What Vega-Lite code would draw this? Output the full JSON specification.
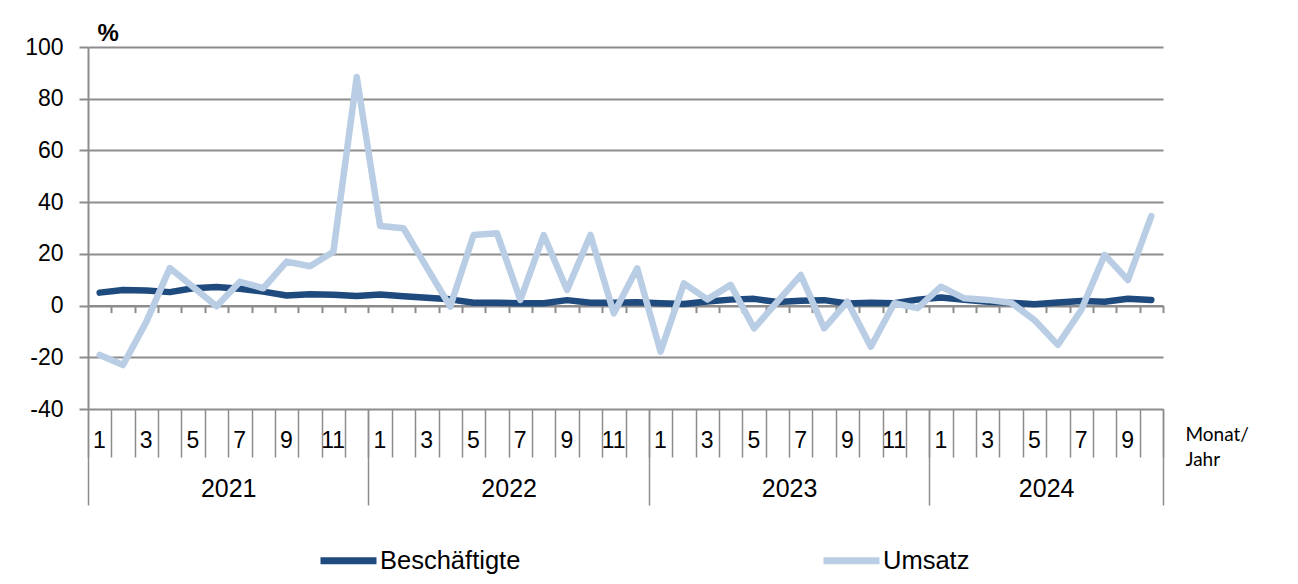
{
  "$schema": "https://vega.github.io/schema/vega-lite/v6.json",
  "width": 1075,
  "height": 362,
  "autosize": {"type": "none"},
  "padding": {"left": 88, "top": 47, "right": 135, "bottom": 175},
  "background": "white",
  "config": {
    "font": "Liberation Sans",
    "view": {"stroke": null},
    "axis": {"labelColor": "#000000", "titleColor": "#000000"}
  },
  "data": {
    "values": [
      {"i":0,"s":"Beschäftigte","v":5.0},{"i":1,"s":"Beschäftigte","v":6.0},{"i":2,"s":"Beschäftigte","v":5.8},{"i":3,"s":"Beschäftigte","v":5.2},{"i":4,"s":"Beschäftigte","v":6.7},{"i":5,"s":"Beschäftigte","v":7.2},{"i":6,"s":"Beschäftigte","v":6.5},{"i":7,"s":"Beschäftigte","v":5.4},{"i":8,"s":"Beschäftigte","v":3.9},{"i":9,"s":"Beschäftigte","v":4.4},{"i":10,"s":"Beschäftigte","v":4.2},{"i":11,"s":"Beschäftigte","v":3.7},
      {"i":12,"s":"Beschäftigte","v":4.3},{"i":13,"s":"Beschäftigte","v":3.6},{"i":14,"s":"Beschäftigte","v":3.0},{"i":15,"s":"Beschäftigte","v":2.4},{"i":16,"s":"Beschäftigte","v":1.1},{"i":17,"s":"Beschäftigte","v":1.1},{"i":18,"s":"Beschäftigte","v":0.9},{"i":19,"s":"Beschäftigte","v":0.9},{"i":20,"s":"Beschäftigte","v":2.1},{"i":21,"s":"Beschäftigte","v":1.1},{"i":22,"s":"Beschäftigte","v":1.1},{"i":23,"s":"Beschäftigte","v":1.3},
      {"i":24,"s":"Beschäftigte","v":0.9},{"i":25,"s":"Beschäftigte","v":0.6},{"i":26,"s":"Beschäftigte","v":1.6},{"i":27,"s":"Beschäftigte","v":2.3},{"i":28,"s":"Beschäftigte","v":2.6},{"i":29,"s":"Beschäftigte","v":1.4},{"i":30,"s":"Beschäftigte","v":1.9},{"i":31,"s":"Beschäftigte","v":2.1},{"i":32,"s":"Beschäftigte","v":0.8},{"i":33,"s":"Beschäftigte","v":1.1},{"i":34,"s":"Beschäftigte","v":0.9},{"i":35,"s":"Beschäftigte","v":2.3},
      {"i":36,"s":"Beschäftigte","v":3.1},{"i":37,"s":"Beschäftigte","v":2.2},{"i":38,"s":"Beschäftigte","v":1.5},{"i":39,"s":"Beschäftigte","v":1.1},{"i":40,"s":"Beschäftigte","v":0.5},{"i":41,"s":"Beschäftigte","v":1.2},{"i":42,"s":"Beschäftigte","v":1.8},{"i":43,"s":"Beschäftigte","v":1.5},{"i":44,"s":"Beschäftigte","v":2.6},{"i":45,"s":"Beschäftigte","v":2.2},
      {"i":0,"s":"Umsatz","v":-19.1},{"i":1,"s":"Umsatz","v":-23.0},{"i":2,"s":"Umsatz","v":-6.2},{"i":3,"s":"Umsatz","v":14.5},{"i":4,"s":"Umsatz","v":7.2},{"i":5,"s":"Umsatz","v":-0.3},{"i":6,"s":"Umsatz","v":9.2},{"i":7,"s":"Umsatz","v":6.7},{"i":8,"s":"Umsatz","v":17.0},{"i":9,"s":"Umsatz","v":15.2},{"i":10,"s":"Umsatz","v":20.8},{"i":11,"s":"Umsatz","v":88.4},
      {"i":12,"s":"Umsatz","v":30.8},{"i":13,"s":"Umsatz","v":29.9},{"i":14,"s":"Umsatz","v":14.7},{"i":15,"s":"Umsatz","v":-0.4},{"i":16,"s":"Umsatz","v":27.3},{"i":17,"s":"Umsatz","v":28.0},{"i":18,"s":"Umsatz","v":2.2},{"i":19,"s":"Umsatz","v":27.3},{"i":20,"s":"Umsatz","v":6.0},{"i":21,"s":"Umsatz","v":27.3},{"i":22,"s":"Umsatz","v":-3.0},{"i":23,"s":"Umsatz","v":14.4},
      {"i":24,"s":"Umsatz","v":-17.8},{"i":25,"s":"Umsatz","v":8.6},{"i":26,"s":"Umsatz","v":2.4},{"i":27,"s":"Umsatz","v":8.0},{"i":28,"s":"Umsatz","v":-8.8},{"i":29,"s":"Umsatz","v":1.5},{"i":30,"s":"Umsatz","v":11.8},{"i":31,"s":"Umsatz","v":-8.8},{"i":32,"s":"Umsatz","v":1.5},{"i":33,"s":"Umsatz","v":-15.9},{"i":34,"s":"Umsatz","v":0.9},{"i":35,"s":"Umsatz","v":-1.0},
      {"i":36,"s":"Umsatz","v":7.3},{"i":37,"s":"Umsatz","v":2.8},{"i":38,"s":"Umsatz","v":2.2},{"i":39,"s":"Umsatz","v":1.1},{"i":40,"s":"Umsatz","v":-5.6},{"i":41,"s":"Umsatz","v":-15.2},{"i":42,"s":"Umsatz","v":-1.7},{"i":43,"s":"Umsatz","v":19.6},{"i":44,"s":"Umsatz","v":9.9},{"i":45,"s":"Umsatz","v":34.6}
    ]
  },
  "resolve": {"axis": {"x": "independent", "y": "independent"}},
  "layer": [
    {
      "mark": {"type": "line", "strokeWidth": 6.5, "strokeCap": "round", "strokeJoin": "round"},
      "encoding": {
        "x": {
          "field": "i", "type": "quantitative",
          "scale": {"domain": [-0.5, 45.5], "nice": false, "zero": false},
          "axis": {
            "orient": "bottom",
            "values": [-0.5,0.5,1.5,2.5,3.5,4.5,5.5,6.5,7.5,8.5,9.5,10.5,11.5,12.5,13.5,14.5,15.5,16.5,17.5,18.5,19.5,20.5,21.5,22.5,23.5,24.5,25.5,26.5,27.5,28.5,29.5,30.5,31.5,32.5,33.5,34.5,35.5,36.5,37.5,38.5,39.5,40.5,41.5,42.5,43.5,44.5,45.5],
            "domain": false,
            "grid": false,
            "ticks": true,
            "tickSize": 48,
            "tickColor": "#8c8c8c",
            "tickWidth": 1.5,
            "labelExpr": "datum.value < 45 && (floor(datum.value + 0.501) % 12) % 2 == 0 ? '' + (floor(datum.value + 0.501) % 12 + 1) : ''",
            "labelOffset": 11,
            "labelPadding": -17,
            "labelBaseline": "middle",
            "labelAlign": "center",
            "labelFlush": false,
            "labelOverlap": false,
            "labelBound": false,
            "labelFontSize": 23,
            "title": ["Monat/", "Jahr"],
            "titleFont": "Lato",
            "titleFontSize": 19,
            "titleFontWeight": "normal",
            "titleAlign": "left",
            "titleBaseline": "top",
            "titleX": 1097,
            "titleY": 16,
            "titleLineHeight": 25,
            "titleAngle": 0
          }
        },
        "y": {
          "field": "v", "type": "quantitative",
          "scale": {"domain": [-40, 100], "nice": false, "zero": false},
          "axis": {
            "values": [-40,-20,0,20,40,60,80,100],
            "labelExpr": "'' + datum.value",
            "grid": true,
            "gridColor": "#8c8c8c",
            "gridWidth": 2,
            "domainColor": "#8c8c8c",
            "domainWidth": 2,
            "tickColor": "#8c8c8c",
            "tickWidth": 2,
            "tickSize": 9,
            "labelPadding": 16,
            "labelFontSize": 23,
            "title": "%",
            "titleAngle": 0,
            "titleFontSize": 24,
            "titleFontWeight": "bold",
            "titleAlign": "left",
            "titleBaseline": "middle",
            "titleX": 9,
            "titleY": -14
          }
        },
        "color": {
          "field": "s", "type": "nominal",
          "scale": {"domain": ["Beschäftigte", "Umsatz"], "range": ["#1F4A7E", "#B9CDE5"]},
          "legend": {
            "orient": "none",
            "direction": "horizontal",
            "legendX": 229,
            "legendY": 482,
            "title": null,
            "symbolType": "stroke",
            "symbolSize": 3136,
            "symbolStrokeWidth": 7,
            "labelFontSize": 25.5,
            "labelColor": "#000000",
            "labelOffset": 0,
            "columnPadding": 288,
            "padding": 0
          }
        }
      }
    },
    {
      "mark": {"type": "line", "opacity": 0},
      "encoding": {
        "x": {
          "field": "i", "type": "quantitative",
          "scale": {"domain": [-0.5, 45.5], "nice": false, "zero": false},
          "axis": {
            "orient": "bottom",
            "values": [-0.5, 5.5, 11.5, 17.5, 23.5, 29.5, 35.5, 40.5, 45.5],
            "domain": false,
            "grid": false,
            "tickSize": 96,
            "tickColor": "#8c8c8c",
            "tickWidth": 1.5,
            "tickOpacity": {"condition": {"test": "datum.value == 5.5 || datum.value == 17.5 || datum.value == 29.5 || datum.value == 40.5", "value": 0}, "value": 1},
            "labelExpr": "datum.value == 5.5 ? '2021' : datum.value == 17.5 ? '2022' : datum.value == 29.5 ? '2023' : datum.value == 40.5 ? '2024' : ''",
            "labelPadding": -17,
            "labelBaseline": "middle",
            "labelAlign": "center",
            "labelFlush": false,
            "labelOverlap": false,
            "labelBound": false,
            "labelFontSize": 25,
            "title": null
          }
        },
        "y": {"field": "v", "type": "quantitative", "scale": {"domain": [-40, 100], "nice": false, "zero": false}, "axis": null}
      }
    },
    {
      "mark": {"type": "line", "opacity": 0},
      "encoding": {
        "x": {
          "field": "i", "type": "quantitative",
          "scale": {"domain": [-0.5, 45.5], "nice": false, "zero": false},
          "axis": {
            "orient": "bottom",
            "offset": -103.43,
            "values": [0.5,1.5,2.5,3.5,4.5,5.5,6.5,7.5,8.5,9.5,10.5,11.5,12.5,13.5,14.5,15.5,16.5,17.5,18.5,19.5,20.5,21.5,22.5,23.5,24.5,25.5,26.5,27.5,28.5,29.5,30.5,31.5,32.5,33.5,34.5,35.5,36.5,37.5,38.5,39.5,40.5,41.5,42.5,43.5,44.5,45.5],
            "domain": true,
            "domainColor": "#8c8c8c",
            "domainWidth": 2,
            "grid": false,
            "tickSize": 7,
            "tickColor": "#8c8c8c",
            "tickWidth": 2,
            "labels": false,
            "title": null
          }
        },
        "y": {"field": "v", "type": "quantitative", "scale": {"domain": [-40, 100], "nice": false, "zero": false}, "axis": null}
      }
    }
  ]
}
